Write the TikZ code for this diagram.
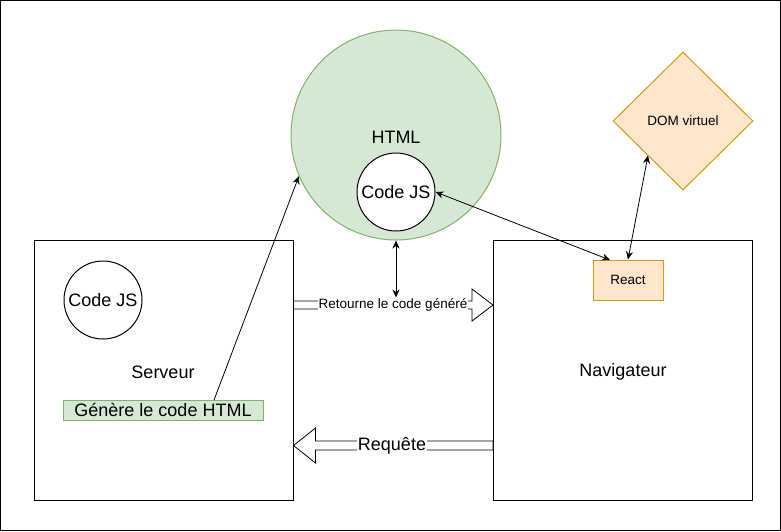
\documentclass[tikz,border=0pt]{standalone}
\usepackage{fontspec}
\setmainfont{Liberation Sans}
\usetikzlibrary{arrows.meta,shapes.geometric,calc}
\definecolor{gfill}{HTML}{D5E8D4}
\definecolor{gline}{HTML}{82B366}
\definecolor{ofill}{HTML}{FFE6CC}
\definecolor{oline}{HTML}{D79B00}
\tikzset{
  big/.style={font=\fontsize{18}{21}\selectfont},
  small/.style={font=\fontsize{13.5}{16}\selectfont},
  box/.style={draw, line width=1pt, minimum width=259pt, minimum height=260pt, inner sep=0},
  conn/.style={line width=0.8pt, {Stealth[length=8pt,width=7pt]}-{Stealth[length=8pt,width=7pt]}},
  conn1/.style={line width=0.8pt, -{Stealth[length=8pt,width=7pt]}},
  blockarrow/.style={draw, line width=0.8pt, fill=white, line join=miter},
}
\begin{document}
\begin{tikzpicture}[x=1pt,y=-1pt]
\useasboundingbox (0,0) rectangle (781,531);
\draw[line width=1.2pt] (0.6,0.6) rectangle (780.2,530.2);

% boxes
\node[box] (srv) at (163.5,370) {};
\node[box] (nav) at (623,370) {};
\node[big] (srvlab) at (163,372) {Serveur};
\node[big] (navlab) at (623,372) {Navigateur};

% HTML circle
\node[circle, draw=gline, fill=gfill, line width=1pt, minimum size=210pt, inner sep=0] (html) at (396,135) {};
\node[big] (htmllab) at (396,137) {HTML};
\node[circle, draw, fill=white, line width=1pt, minimum size=78pt, inner sep=0, big] (js) at (396,192) {Code JS};

% server items
\node[circle, draw, fill=white, line width=1pt, minimum size=78pt, inner sep=0, big] (jss) at (103,300) {Code JS};
\node[draw=gline, fill=gfill, line width=1pt, minimum width=200pt, minimum height=20pt, inner sep=0, big] (gen) at (163,410) {Génère le code HTML};

% DOM virtuel and React
\node[diamond, draw=oline, fill=ofill, line width=1pt, minimum width=140pt, minimum height=138pt, inner sep=0, small] (dom) at (683,121) {DOM virtuel};
\node[draw=oline, fill=ofill, line width=1pt, minimum width=70pt, minimum height=40pt, inner sep=0, small] (react) at (628,280) {React};

% block arrow: Retourne le code genere
\coordinate (rA) at (srv.east |- 0,305);
\coordinate (rB) at (nav.west |- 0,305);
\draw[blockarrow] ($(rA)+(0,-4)$) -- ($(rB)+(-21,-4)$) -- ($(rB)+(-21,-16)$) -- (rB)
  -- ($(rB)+(-21,16)$) -- ($(rB)+(-21,4)$) -- ($(rA)+(0,4)$) -- cycle;
\node[small, fill=white, inner sep=1pt] (retlab) at (393,305) {Retourne le code généré};

% block arrow: Requete
\coordinate (qA) at (nav.west |- 0,445.5);
\coordinate (qB) at (srv.east |- 0,445.5);
\draw[blockarrow] ($(qA)+(0,-4.5)$) -- ($(qB)+(22,-4.5)$) -- ($(qB)+(22,-17.5)$) -- (qB)
  -- ($(qB)+(22,17.5)$) -- ($(qB)+(22,4.5)$) -- ($(qA)+(0,4.5)$) -- cycle;
\node[big, fill=white, inner sep=1pt] (reqlab) at (392,446) {Requête};

% connectors
\coordinate (genTop) at (214,400);
\draw[conn1] (genTop) -- (html.203.9);
\draw[conn] (html.south) -- (html.south |- retlab.north);
\coordinate (reactTL) at (610,260);
\draw[conn] (js.east) -- (reactTL);
\coordinate (domSW) at (648,155.5);
\draw[conn] (react.north) -- (domSW);
\end{tikzpicture}
\end{document}
